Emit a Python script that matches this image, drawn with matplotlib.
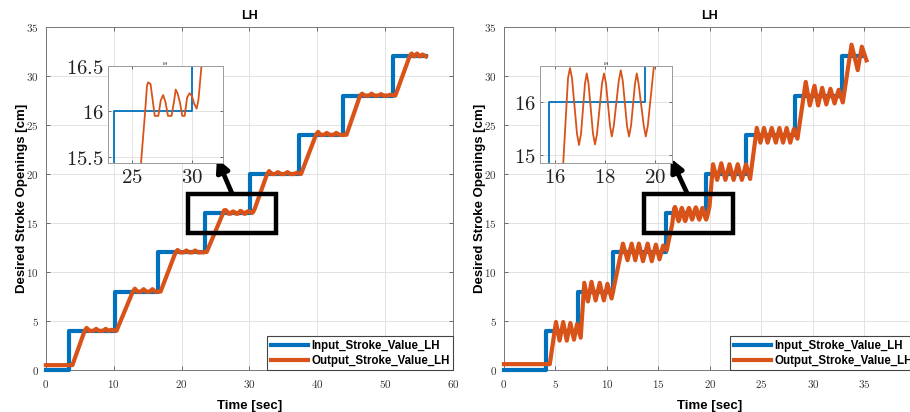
import matplotlib
matplotlib.use("Agg")
import matplotlib.pyplot as plt
from matplotlib.ticker import FuncFormatter
from matplotlib.patches import Rectangle

plt.rcParams['mathtext.fontset'] = 'cm'

# ---------------- data ----------------
title_text = "LH"
xlabel_text = "Time [sec]"
ylabel_text = "Desired Stroke Openings [cm]"
legend_labels = ["Input_Stroke_Value_LH", "Output_Stroke_Value_LH"]

# Left panel: input (step times / levels)
in_L_t = [0, 3.4, 10.2, 16.55, 23.5, 30.05, 37.3, 43.8, 51.2, 56.0]
in_L_v = [0, 4, 8, 12, 16, 20, 24, 28, 32, 32]

# Left panel: output
out_L_t = [0, 3.9, 5.7, 6.0, 6.4, 7.0, 7.4, 7.8, 8.4, 8.8, 9.2, 9.6, 10.4,
           12.8, 13.1, 13.5, 14.0, 14.4, 14.8, 15.3, 15.7, 16.1, 16.9,
           19.1, 19.4, 19.8, 20.3, 20.7, 21.1, 21.6, 22.0, 22.4, 23.0, 23.7,
           26.1, 26.25, 26.35, 26.55, 26.65, 26.9, 27.2, 27.4, 27.6, 27.8, 28.0,
           28.3, 28.5, 28.65, 28.8, 29.0, 29.2, 29.4, 29.6, 29.8, 30.0, 30.2,
           30.4, 30.55, 30.8,
           32.6, 32.9, 33.3, 33.8, 34.2, 34.6, 35.2, 35.6, 36.0, 36.6, 37.0, 37.6,
           39.8, 40.1, 40.5, 41.0, 41.4, 41.8, 42.4, 42.8, 43.2, 43.8, 44.3,
           46.3, 46.6, 47.0, 47.6, 48.0, 48.4, 49.0, 49.4, 49.8, 50.4, 50.8, 51.5,
           53.6, 53.9, 54.3, 54.7, 55.1, 55.5, 56.0]
out_L_v = [0.5, 0.5, 4.0, 4.3, 4.0, 4.0, 4.2, 4.0, 4.0, 4.2, 4.0, 4.1, 4.0,
           8.0, 8.3, 8.0, 8.0, 8.25, 8.0, 8.0, 8.25, 8.0, 8.0,
           12.0, 12.25, 12.0, 12.0, 12.2, 12.0, 12.0, 12.2, 12.0, 12.0, 12.05,
           16.0, 16.28, 16.32, 16.3, 16.2, 15.95, 15.95, 16.12, 16.18, 16.1, 15.95,
           15.95, 16.1, 16.24, 16.2, 16.1, 15.95, 15.95, 16.15, 16.2, 16.17, 16.08,
           16.03, 16.13, 16.5,
           20.0, 20.3, 20.0, 20.0, 20.2, 20.0, 20.0, 20.2, 20.0, 20.0, 20.15, 20.0,
           24.0, 24.3, 24.0, 24.0, 24.2, 24.0, 24.0, 24.2, 24.0, 24.0, 24.0,
           28.0, 28.2, 28.0, 28.0, 28.2, 28.0, 28.0, 28.15, 28.0, 28.0, 28.1, 28.0,
           32.0, 32.3, 32.0, 32.3, 32.0, 32.2, 32.0]

# Right panel: input (step times / levels)
in_R_t = [0, 4.1, 7.2, 10.55, 15.75, 19.6, 23.55, 28.25, 32.8, 35.0]
in_R_v = [0, 4, 8, 12, 16, 20, 24, 28, 32, 32]

# Right panel: output
out_R_t = [0, 4.45, 5.05, 5.4, 5.75, 6.1, 6.45, 6.8, 7.1, 7.45,
           7.8, 8.15, 8.5, 8.9, 9.3, 9.7, 10.05, 10.45,
           11.55, 12.0, 12.4, 12.75, 13.1, 13.5, 13.95, 14.35, 14.75, 15.1, 15.45, 15.8,
           16.33, 16.52, 16.6, 16.68, 16.88, 16.96, 17.04, 17.2, 17.27, 17.34,
           17.52, 17.6, 17.68, 17.88, 17.96, 18.04, 18.2, 18.27, 18.35, 18.55,
           18.63, 18.71, 18.88, 18.96, 19.04, 19.2, 19.27, 19.34, 19.55, 19.63,
           19.71, 19.96,
           20.3, 20.7, 21.1, 21.5, 21.9, 22.3, 22.7, 23.1, 23.5, 23.9,
           24.55, 24.9, 25.25, 25.6, 26.0, 26.4, 26.75, 27.1, 27.45, 27.8, 28.15, 28.5,
           29.3, 29.7, 30.15, 30.5, 30.9, 31.3, 31.7, 32.1, 32.5, 32.9,
           33.75, 34.35, 34.75, 35.2]
out_R_v = [0.6, 0.6, 4.9, 3.0, 4.9, 3.0, 4.8, 3.1, 4.7, 3.3,
           8.9, 7.0, 9.0, 7.1, 8.9, 7.1, 8.8, 7.3,
           12.9, 11.2, 12.9, 11.2, 12.9, 11.1, 12.9, 11.1, 12.8, 11.3, 12.7, 12.2,
           14.85, 16.45, 16.64, 16.45, 15.4, 15.19, 15.4, 16.35, 16.54, 16.35,
           15.4, 15.2, 15.4, 16.35, 16.54, 16.35, 15.55, 15.35, 15.55, 16.4,
           16.6, 16.4, 15.55, 15.35, 15.55, 16.35, 16.54, 16.35, 15.55, 15.35,
           15.55, 16.7,
           21.0, 19.4, 21.1, 19.4, 21.0, 19.4, 21.0, 19.4, 21.0, 19.5,
           24.7, 23.2, 24.7, 23.2, 24.7, 23.2, 24.7, 23.2, 24.7, 23.2, 24.6, 23.6,
           29.4, 27.0, 29.0, 27.0, 28.8, 27.1, 28.7, 27.2, 28.6, 27.3,
           33.2, 30.6, 33.0, 31.6]

# axis ranges / ticks
L_xlim, L_xticks = (0, 60), [0, 10, 20, 30, 40, 50, 60]
R_xlim, R_xticks = (0, 40), [0, 5, 10, 15, 20, 25, 30, 35, 40]
ylim_main, yticks_main = (0, 35), [0, 5, 10, 15, 20, 25, 30, 35]

L_inset_xlim, L_inset_ylim = (23.0, 32.6), (15.43, 16.5)
L_inset_xticks, L_inset_yticks = [25, 30], [15.5, 16, 16.5]
R_inset_xlim, R_inset_ylim = (15.4, 20.68), (14.85, 16.68)
R_inset_xticks, R_inset_yticks = [16, 18, 20], [15, 16]

L_box = (20.9, 14.0, 33.9, 18.0)
L_arrow = ((27.4, 18.06), (25.2, 21.6))
R_box = (13.6, 14.0, 22.2, 18.0)
R_arrow = ((17.8, 18.0), (16.2, 21.6))

BLUE = '#0072BD'
ORANGE = '#D95319'

fmt = FuncFormatter(lambda v, p: r'$%g$' % v)
SANS = ['Liberation Sans', 'DejaVu Sans']

fig = plt.figure(figsize=(9.10, 4.12), dpi=100)


def style_axes(ax, xlim, xticks, tick_size, frame_col, tick_len):
    ax.set_xlim(*xlim)
    ax.set_xticks(xticks)
    ax.xaxis.set_major_formatter(fmt)
    ax.yaxis.set_major_formatter(fmt)
    ax.grid(True, color='#dedede', lw=0.6)
    ax.set_axisbelow(True)
    ax.tick_params(direction='in', top=True, right=True, length=tick_len,
                   width=0.6, color='#555555', labelsize=tick_size,
                   labelcolor='#333333')
    for s in ax.spines.values():
        s.set_color(frame_col)
        s.set_linewidth(0.7)


def main_panel(rect, in_t, in_v, out_t, out_v, xlim, xticks, box, arrow,
               inset_rect, ixlim, iylim, ixt, iyt):
    ax = fig.add_axes(rect)
    style_axes(ax, xlim, xticks, 8, '#777777', 3)
    ax.set_ylim(*ylim_main)
    ax.set_yticks(yticks_main)
    ax.tick_params(axis='x', pad=6)
    ax.tick_params(axis='y', pad=5)
    l1, = ax.step(in_t, in_v, where='post', color=BLUE, lw=3.0,
                  clip_on=False, zorder=3)
    l2, = ax.plot(out_t, out_v, color=ORANGE, lw=3.0, clip_on=False,
                  zorder=4, solid_joinstyle='round')
    ax.set_title(title_text, fontsize=9, fontweight='bold', family=SANS, pad=6)
    ax.set_xlabel(xlabel_text, fontsize=9.5, fontweight='bold', family=SANS,
                  labelpad=7)
    ax.set_ylabel(ylabel_text, fontsize=9.5, fontweight='bold', family=SANS,
                  labelpad=-1)
    leg = ax.legend([l1, l2], legend_labels, loc='lower right',
                    borderaxespad=0, fancybox=False, framealpha=1,
                    edgecolor='#444444', handlelength=3.2, handletextpad=0.3,
                    borderpad=0.3, labelspacing=0.25,
                    prop={'family': SANS, 'weight': 'bold', 'size': 8.3})
    leg.get_frame().set_linewidth(0.8)
    leg.set_zorder(10)
    x0, y0, x1, y1 = box
    ax.add_patch(Rectangle((x0, y0), x1 - x0, y1 - y0, fill=False,
                           ec='black', lw=3.2, zorder=6, clip_on=False))
    ax.annotate('', xy=arrow[1], xytext=arrow[0],
                arrowprops=dict(arrowstyle='-|>', color='black', lw=3.4,
                                mutation_scale=19, shrinkA=0, shrinkB=0),
                zorder=7)

    ia = fig.add_axes(inset_rect)
    style_axes(ia, ixlim, ixt, 15, '#9a9a9a', 2)
    ia.set_ylim(*iylim)
    ia.set_yticks(iyt)
    ia.tick_params(labelcolor='#222222', pad=3)
    ia.step(in_t, in_v, where='post', color=BLUE, lw=1.3)
    ia.plot(out_t, out_v, color=ORANGE, lw=1.3, solid_joinstyle='round')
    ia.set_title(title_text, fontsize=3, pad=1, family=SANS)
    return ax, ia


main_panel([0.0505, 0.1019, 0.4473, 0.8325], in_L_t, in_L_v, out_L_t, out_L_v,
           L_xlim, L_xticks, L_box, L_arrow,
           [0.1187, 0.6044, 0.1264, 0.2354],
           L_inset_xlim, L_inset_ylim, L_inset_xticks, L_inset_yticks)
main_panel([0.5538, 0.1019, 0.4527, 0.8325], in_R_t, in_R_v, out_R_t, out_R_v,
           R_xlim, R_xticks, R_box, R_arrow,
           [0.5934, 0.6044, 0.1451, 0.2354],
           R_inset_xlim, R_inset_ylim, R_inset_xticks, R_inset_yticks)

fig.savefig('out.png', dpi=100)
